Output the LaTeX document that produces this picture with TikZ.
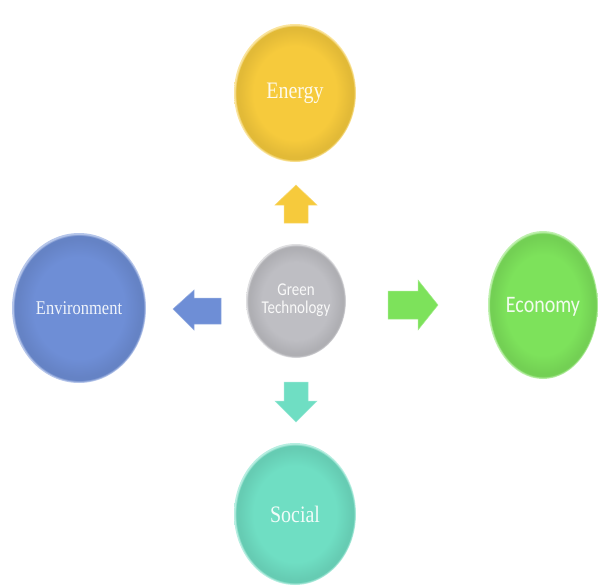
\documentclass[tikz,border=0pt]{standalone}
\usepackage{fontspec}
\setmainfont{Liberation Serif}
\newfontfamily\calibri{Carlito}
\usetikzlibrary{shapes.geometric}

% Palette
\definecolor{energyc}{HTML}{F6CA3C}
\definecolor{envc}{HTML}{6E8ED6}
\definecolor{econc}{HTML}{7DE25B}
\definecolor{socialc}{HTML}{6FDEC3}
\definecolor{greyc}{HTML}{BEBEC3}

% Soft "pillow" look: flat centre, darker band near the edge, light rim.
% The shaded path's bounding box maps to the central 25bp radius.
\pgfdeclareradialshading[pcore,pring,prim]{pillow}{\pgfpoint{0bp}{0bp}}{%
  color(0bp)=(pcore); color(17bp)=(pcore); color(23bp)=(pring);
  color(24.1bp)=(pring); color(24.7bp)=(prim); color(50bp)=(prim)}

% Text set slightly taller than its natural shape
\newcommand\tallword[1]{\scalebox{1}[1.18]{#1}}

\tikzset{
  tint/.code={\colorlet{pcore}{#1}\colorlet{pring}{#1!92!black}\colorlet{prim}{#1!50!white}},
  bubble/.style={ellipse, shade, shading=pillow, inner sep=0pt, tint=#1, text=#1!10!white},
  blockarrow/.style={fill=#1, draw=#1!70!white, line width=0.5pt, line join=miter},
  serifbig/.style={font=\fontsize{20}{24}\selectfont},
}

\begin{document}
\begin{tikzpicture}[x=1pt,y=-1pt]
  \useasboundingbox (0,0) rectangle (598,587);

  % Hub
  \node[bubble=greyc, minimum width=100pt, minimum height=114pt,
        font=\calibri\fontsize{15}{15}\selectfont]
        (hub) at (296,301)
        {\scalebox{1}[1.2]{\begin{tabular}{@{}c@{}}Green\\Technology\end{tabular}}};

  % Outer themes
  \node[bubble=energyc, minimum width=122pt, minimum height=138pt, serifbig]
        (energy) at (295,93) {\tallword{Energy}};
  \node[bubble=envc, minimum width=134pt, minimum height=150pt,
        font=\fontsize{16.5}{20}\selectfont]
        (env) at (79,308) {\tallword{Environment}};
  \node[bubble=econc, minimum width=110pt, minimum height=148pt,
        font=\calibri\fontsize{20}{24}\selectfont, text depth=0pt]
        (econ) at (543,305) {\tallword{Economy}};
  \node[bubble=socialc, minimum width=122pt, minimum height=142pt, serifbig]
        (social) at (295,514) {\tallword{Social}};

  % Block arrows pointing outwards from the hub
  \fill[blockarrow=energyc] (296,185) -- (317,205) -- (308,205) -- (308,223)
        -- (284,223) -- (284,205) -- (275,205) -- cycle;
  \fill[blockarrow=socialc] (296,422) -- (317,401) -- (308,401) -- (308,382)
        -- (284,382) -- (284,401) -- (275,401) -- cycle;
  \fill[blockarrow=envc] (173,309) -- (194,290) -- (194,298) -- (221,298)
        -- (221,324) -- (194,324) -- (194,330) -- cycle;
  \fill[blockarrow=econc] (438,305) -- (418,280) -- (418,291) -- (388,291)
        -- (388,319) -- (418,319) -- (418,330) -- cycle;
\end{tikzpicture}
\end{document}
